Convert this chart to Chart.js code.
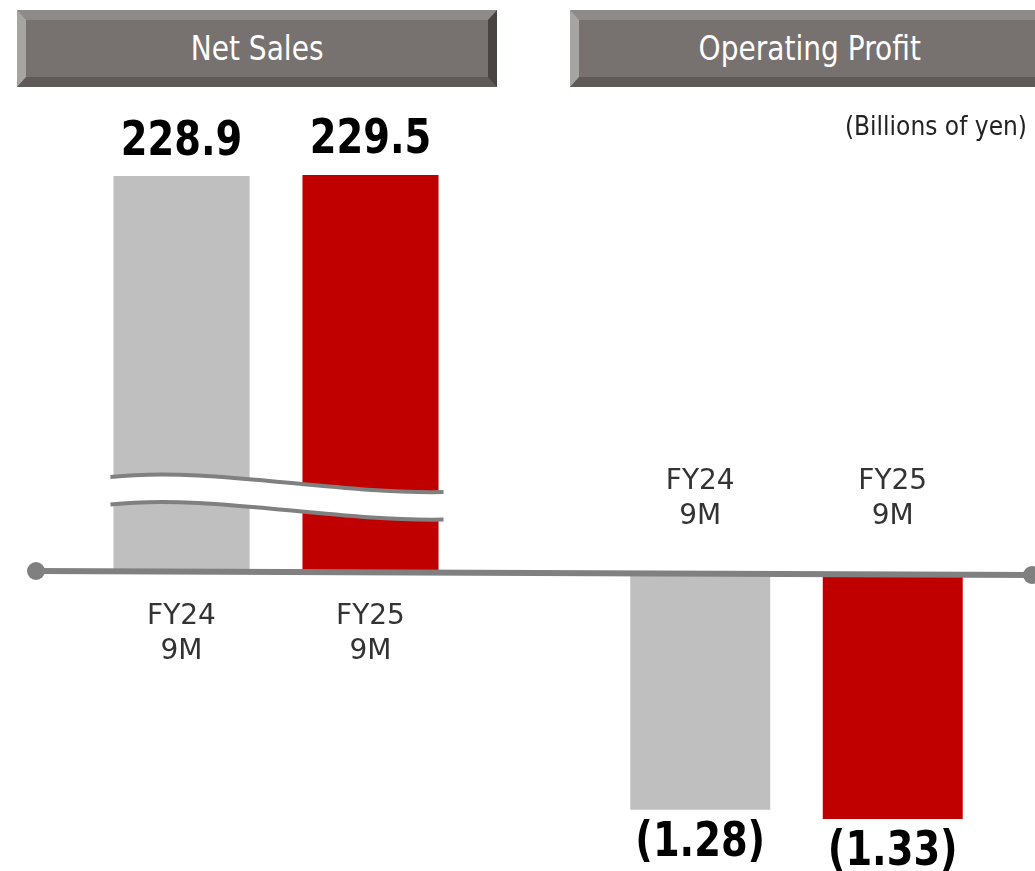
<!DOCTYPE html>
<html>
<head>
<meta charset="utf-8">
<script src="https://cdn.jsdelivr.net/npm/chart.js@4.4.1/dist/chart.umd.min.js"></script>
<style>
  html,body{margin:0;padding:0;background:#fff;overflow:hidden;}
  body{width:1035px;height:871px;position:relative;}
  .banner{
    position:absolute;top:10px;height:77px;width:480px;box-sizing:border-box;
    background:#77716f;border-style:solid;border-width:10px 9px;
    border-top-color:#8e8a88;border-left-color:#a7a5a3;
    border-bottom-color:#5f5a58;border-right-color:#474442;
    color:#fff;font:33px "DejaVu Sans",sans-serif;
    display:flex;align-items:center;justify-content:center;
  }
  .banner span{display:inline-block;transform:scaleX(0.85);white-space:nowrap;}
  canvas{position:absolute;left:0;top:0;}
</style>
</head>
<body>
<div class="banner" style="left:17px;"><span>Net Sales</span></div>
<div class="banner" style="left:570px;"><span>Operating Profit</span></div>
<canvas id="netChart" width="1035" height="871"></canvas>
<canvas id="opChart" width="1035" height="871"></canvas>

<script>
// ===============================
// DATA
// ===============================
const CATEGORIES = [["FY24","9M"],["FY25","9M"]];
const NET_SALES  = [228.9, 229.5];
const OP_PROFIT  = [-1.28, -1.33];
const NET_LABELS = ["228.9","229.5"];
const OP_LABELS  = ["(1.28)","(1.33)"];
const BAR_COLORS = ["#bfbfbf","#c00000"];
const UNIT_NOTE  = "(Billions of yen)";
const NET_BREAK_AT = 54;   // value where the wavy cut starts

const FONT = '"DejaVu Sans", sans-serif';
const FONT_COND = '"DejaVu Sans Condensed", "DejaVu Sans", sans-serif';

// ===============================
// PLUGINS
// ===============================
const valueLabels = {
  id:'valueLabels',
  afterDatasetsDraw(chart, args, opts){
    const ctx = chart.ctx;
    const bars = chart.getDatasetMeta(0).data;
    const values = chart.data.datasets[0].data;
    ctx.save();
    ctx.font = 'bold 48px ' + FONT;
    ctx.fillStyle = '#000';
    ctx.textAlign = 'center';
    ctx.textBaseline = 'middle';
    bars.forEach((bar,i)=>{
      const y = values[i] >= 0 ? bar.y - 34 : bar.y + 34;
      ctx.save();
      ctx.translate(bar.x, y);
      ctx.scale(0.8, 1);   // narrow bold digits like the slide
      ctx.fillText(opts.labels[i], 0, 0);
      ctx.restore();
    });
    ctx.restore();
  }
};

// wavy "axis break" across the net sales bars
const axisBreak = {
  id:'axisBreak',
  afterDatasetsDraw(chart){
    const ctx = chart.ctx;
    const bars = chart.getDatasetMeta(0).data;
    const first = bars[0], last = bars[bars.length-1];
    const x0 = first.x - first.width/2 - 3;
    const x1 = last.x + last.width/2 + 5;
    const w = x1 - x0;
    const y0 = chart.scales.y.getPixelForValue(NET_BREAK_AT);
    const gap = 27.5;

    ctx.save();
    // white band
    ctx.beginPath();
    ctx.moveTo(x0, y0);
    ctx.bezierCurveTo(x0+w*0.3, y0-11, x0+w*0.66, y0+17, x1, y0+15);
    ctx.lineTo(x1, y0+15+gap);
    ctx.bezierCurveTo(x0+w*0.66, y0+17+gap, x0+w*0.3, y0-11+gap, x0, y0+gap);
    ctx.closePath();
    ctx.fillStyle = '#fff';
    ctx.fill();

    // the two lines
    ctx.strokeStyle = '#808080';
    ctx.lineWidth = 4;
    [0, gap].forEach(dy=>{
      ctx.beginPath();
      ctx.moveTo(x0, y0+dy);
      ctx.bezierCurveTo(x0+w*0.3, y0-11+dy, x0+w*0.66, y0+17+dy, x1, y0+15+dy);
      ctx.stroke();
    });
    ctx.restore();
  }
};

// long baseline with dots + unit note
const baseLine = {
  id:'baseLine',
  afterDatasetsDraw(chart){
    const ctx = chart.ctx;
    const ends = [[36,571],[1032,575]];
    ctx.save();
    ctx.strokeStyle = '#808080';
    ctx.fillStyle = '#808080';
    ctx.lineWidth = 6;
    ctx.beginPath();
    ctx.moveTo(ends[0][0], ends[0][1]);
    ctx.lineTo(ends[1][0], ends[1][1]);
    ctx.stroke();
    ends.forEach(([x,y])=>{
      ctx.beginPath();
      ctx.arc(x, y, 9, 0, Math.PI*2);
      ctx.fill();
    });

    ctx.font = '26px ' + FONT_COND;
    ctx.fillStyle = '#222';
    ctx.textAlign = 'right';
    ctx.textBaseline = 'alphabetic';
    ctx.fillText(UNIT_NOTE, 1027, 135);
    ctx.restore();
  }
};

// ===============================
// CHARTS
// ===============================
function tickFont(){
  return { family: FONT, size: 28, lineHeight: 1.25 };
}

new Chart(document.getElementById('netChart'), {
  type:'bar',
  data:{
    labels: CATEGORIES,
    datasets:[{
      data: NET_SALES,
      backgroundColor: BAR_COLORS,
      barPercentage: 0.72,
      categoryPercentage: 1
    }]
  },
  options:{
    responsive:false,
    animation:false,
    layout:{ padding:{ left:87, right:570, top:175, bottom:161 } },
    plugins:{
      legend:{ display:false },
      tooltip:{ enabled:false },
      valueLabels:{ labels: NET_LABELS }
    },
    scales:{
      x:{
        position:'bottom',
        grid:{ display:false },
        border:{ display:false },
        ticks:{ color:'#333', padding:21, font: tickFont(), maxRotation:0, autoSkip:false },
        afterFit: s => { s.height = 140; }
      },
      y:{ display:false, min:0, max: Math.max(...NET_SALES) }
    }
  },
  plugins:[axisBreak, valueLabels]
});

new Chart(document.getElementById('opChart'), {
  type:'bar',
  data:{
    labels: CATEGORIES,
    datasets:[{
      data: OP_PROFIT,
      backgroundColor: BAR_COLORS,
      barPercentage: 0.727,
      categoryPercentage: 1
    }]
  },
  options:{
    responsive:false,
    animation:false,
    layout:{ padding:{ left:604, right:46, top:426, bottom:52 } },
    plugins:{
      legend:{ display:false },
      tooltip:{ enabled:false },
      valueLabels:{ labels: OP_LABELS }
    },
    scales:{
      x:{
        position:'top',
        grid:{ display:false },
        border:{ display:false },
        ticks:{ color:'#333', padding:34, font: tickFont(), maxRotation:0, autoSkip:false },
        afterFit: s => { s.height = 150; }
      },
      y:{ display:false, min: Math.min(...OP_PROFIT), max:0 }
    }
  },
  plugins:[baseLine, valueLabels]
});
</script>
</body>
</html>
